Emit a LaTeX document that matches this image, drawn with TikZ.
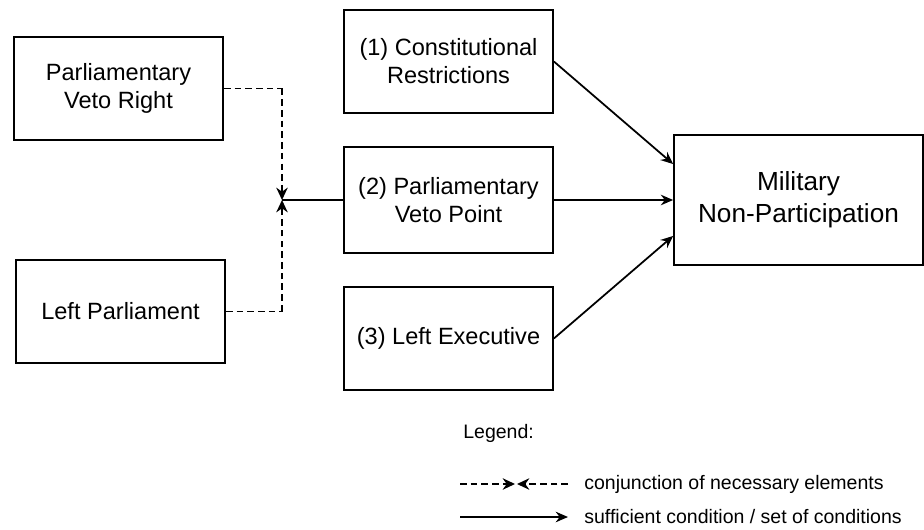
\documentclass[tikz,border=0pt]{standalone}
\usepackage{fontspec}
\setmainfont{Liberation Sans}
\usetikzlibrary{shapes}
\usetikzlibrary{positioning}
\usetikzlibrary{arrows.meta}
\tikzset{
    mybox/.style = {rectangle, draw=black, line width=1pt, minimum width=4.18cm, minimum height=2.06cm, align=center, font=\fontsize{13.4}{16}\selectfont},
    mybigbox/.style = {rectangle, draw=black, line width=1pt, minimum width=4.98cm, minimum height=2.6cm, align=center, font=\fontsize{14.9}{18}\selectfont},
    legtext/.style = {anchor=west, inner sep=0pt, font=\fontsize{11.1}{14}\selectfont},
    edgen/.style = {-{Stealth[length=7pt,width=6pt]}, line width=1pt},
    edgend/.style = {-{Stealth[length=7pt,width=6.5pt]}, line width=1.1pt, dash pattern=on 3.8pt off 2.3pt}, % necessary
    edged/.style = {line width=1.1pt, dash pattern=on 3.8pt off 2.3pt}
}
\begin{document}
\begin{tikzpicture}
  \useasboundingbox (0,0) rectangle (18.48,-10.6);

  \node[mybox] at (2.37,-1.77) (pvr) {Parliamentary\\Veto Right};
  \node[mybox] at (2.41,-6.23) (lp) {Left Parliament};
  \node[mybox] at (8.97,-1.23) (c1) {(1) Constitutional\\Restrictions};
  \node[mybox, minimum height=2.12cm] at (8.97,-4.0) (c2) {(2) Parliamentary\\Veto Point};
  \node[mybox] at (8.97,-6.77) (c3) {(3) Left Executive};
  \node[mybigbox] at (15.97,-4.0) (mil) {Military\\Non-Participation};

  \coordinate (j1) at (5.64,-1.77);
  \coordinate (j2) at (5.64,-6.23);
  \coordinate (jm) at (5.64,-4.0);

  \draw[edged] (pvr.east) -- (j1);
  \draw[edgend] (j1) -- (jm);
  \draw[edged] (lp.east) -- (j2);
  \draw[edgend] (j2) -- (jm);
  \draw[line width=1pt] (jm) -- (c2.west);

  \draw[edgen] (c1.east) -- (mil.164);
  \draw[edgen] (c2.east) -- (mil.west);
  \draw[edgen] (c3.east) -- (mil.196);

  % legend
  \node[legtext] at (9.26,-8.66) (leg) {Legend:};
  \coordinate (la) at (9.2,-9.68);
  \coordinate (lm1) at (10.3,-9.68);
  \coordinate (lm2) at (10.34,-9.68);
  \coordinate (lb) at (11.36,-9.68);
  \coordinate (lc) at (9.2,-10.34);
  \coordinate (ld) at (11.36,-10.34);
  \draw[edgend] (la) -- (lm1);
  \draw[edgend] (lb) -- (lm2);
  \draw[edgen] (lc) -- (ld);
  \node[legtext] at (11.68,-9.68) (lt1) {conjunction of necessary elements};
  \node[legtext] at (11.68,-10.34) (lt2) {sufficient condition / set of conditions};
\end{tikzpicture}
\end{document}
